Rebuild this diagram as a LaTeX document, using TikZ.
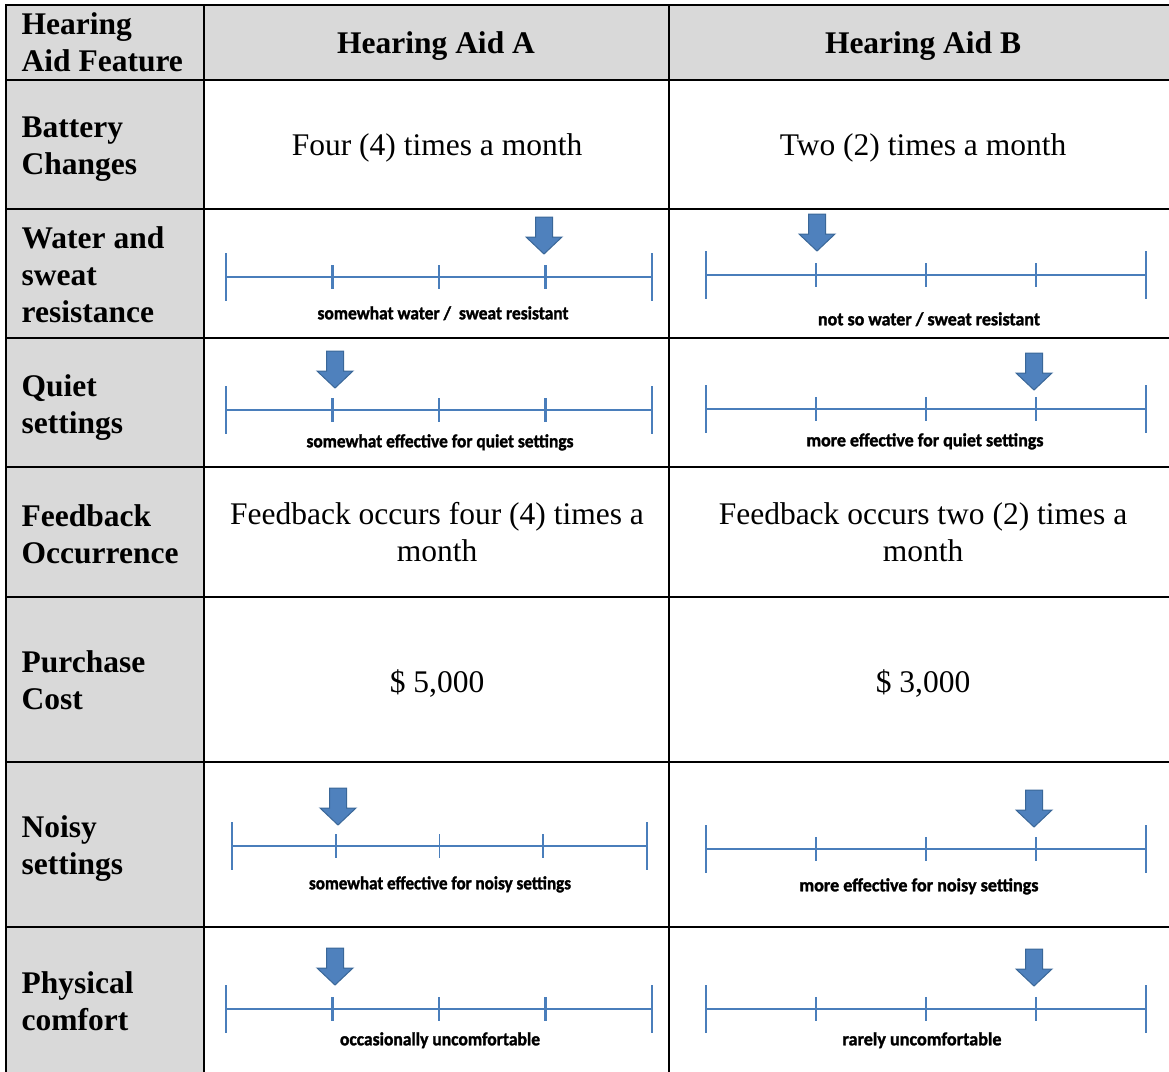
\documentclass[tikz,border=0pt]{standalone}
\usepackage{fontspec}
\usepackage{graphicx}
\setmainfont{Liberation Serif}
\newfontfamily\notefont{Carlito}[BoldFeatures={FakeBold=1.6}]
\newcommand\squeeze[2]{\resizebox{#1pt}{\height}{#2}}
% a linear rating scale: left x, right x, baseline y
\newcommand\ratingscale[4][]{%
  \draw[scaleline,#1] (#2,#4) -- (#3,#4);
  \draw[scaleline,#1] (#2,#4-24) -- (#2,#4+24);
  \draw[scaleline,#1] (#3,#4-24) -- (#3,#4+24);
  \foreach \k in {1,2,3}
    \draw[scaleline,#1] ({#2+\k*(#3-#2)/4},#4-12) -- ({#2+\k*(#3-#2)/4},#4+12);
}
% block arrow pointing down, tip at (#1,#2)
\newcommand\marker[2]{%
  \draw[pointer] (#1,#2) -- ++(-18,-17) -- ++(9.5,0) -- ++(0,-20) -- ++(17,0)
    -- ++(0,20) -- ++(9.5,0) -- cycle;
}
\definecolor{cellgray}{HTML}{D9D9D9}
\definecolor{scaleblue}{HTML}{4A7EBB}
\definecolor{arrowfill}{HTML}{4F81BD}
\definecolor{arrowedge}{HTML}{3A6798}
\tikzset{
  gridline/.style={line width=2.6pt, black, line cap=rect},
  scaleline/.style={line width=2.4pt, scaleblue},
  pointer/.style={fill=arrowfill, draw=arrowedge, line width=1pt, line join=miter},
  lab/.style={font=\fontsize{31.5}{36.7}\selectfont\bfseries, align=left, anchor=base west, inner sep=0pt},
  cell/.style={font=\fontsize{31.5}{36.7}\selectfont, align=center, anchor=base, inner sep=0pt},
  note/.style={font=\notefont\bfseries\fontsize{18.5}{18.5}\selectfont, anchor=mid, inner sep=0pt},
}
\begin{document}
\begin{tikzpicture}[x=1pt,y=-1pt]
\useasboundingbox (0,0) rectangle (1169,1071);
\clip (0,0) rectangle (1169,1071);
% shaded header row and feature column
\fill[cellgray] (6,5) rectangle (1180,80);
\fill[cellgray] (6,5) rectangle (204,1080);
% table rules
\foreach \yy in {5,80,209,338,467,597,762,927}
  \draw[gridline] (6,\yy) -- (1180,\yy);
\foreach \xx in {6,204,669}
  \draw[gridline] (\xx,5) -- (\xx,1080);
% header (multi-line nodes sit on the baseline of their last line)
\node[lab] (hfeat) at (21.5,71) {Hearing\\Aid Feature};
\node[cell,font=\fontsize{31.5}{36.7}\selectfont\bfseries] (ha) at (436,53) {Hearing Aid A};
\node[cell,font=\fontsize{31.5}{36.7}\selectfont\bfseries] (hb) at (923,53) {Hearing Aid B};
% feature names
\node[lab] (fbat) at (21.5,174) {Battery\\Changes};
\node[lab] (fwat) at (21.5,322) {Water and\\sweat\\resistance};
\node[lab] (fqui) at (21.5,433) {Quiet\\settings};
\node[lab] (ffee) at (21.5,563) {Feedback\\Occurrence};
\node[lab] (fpur) at (21.5,709) {Purchase\\Cost};
\node[lab] (fnoi) at (21.5,874) {Noisy\\settings};
\node[lab] (fphy) at (21.5,1030) {Physical\\comfort};
% plain entries
\node[cell] (bata) at (437,155) {Four (4) times a month};
\node[cell] (batb) at (923,155) {Two (2) times a month};
\node[cell] (feea) at (437,561) {Feedback occurs four (4) times a\\month};
\node[cell] (feeb) at (923,561) {Feedback occurs two (2) times a\\month};
\node[cell] (pura) at (437,692) {\$ 5,000};
\node[cell] (purb) at (923,692) {\$ 3,000};
% water and sweat resistance
\ratingscale{226}{652}{277}
\marker{544}{254}
\node[note] (wata) at (443,317) {\squeeze{251}{somewhat water /\ \ sweat resistant}};
\ratingscale{706}{1146}{275}
\marker{817}{251}
\node[note] (watb) at (929,323) {\squeeze{222}{not so water / sweat resistant}};
% quiet settings
\ratingscale{226}{652}{410}
\marker{335}{388}
\node[note] (quia) at (440,445) {\squeeze{267}{somewhat effective for quiet settings}};
\ratingscale{706}{1146}{409}
\marker{1034}{390}
\node[note] (quib) at (925,444) {\squeeze{237}{more effective for quiet settings}};
% noisy settings
\ratingscale[line width=1.6pt]{232}{647}{846}
\marker{338}{825}
\node[note] (noia) at (440,887) {\squeeze{262}{somewhat effective for noisy settings}};
\ratingscale{706}{1146}{849}
\marker{1034}{827}
\node[note] (noib) at (919,889) {\squeeze{239}{more effective for noisy settings}};
% physical comfort
\ratingscale{226}{652}{1009}
\marker{335}{985}
\node[note] (phya) at (440,1043) {\squeeze{200}{occasionally uncomfortable}};
\ratingscale{706}{1146}{1009}
\marker{1034}{986}
\node[note] (phyb) at (922,1043) {\squeeze{159}{rarely uncomfortable}};
\end{tikzpicture}
\end{document}
